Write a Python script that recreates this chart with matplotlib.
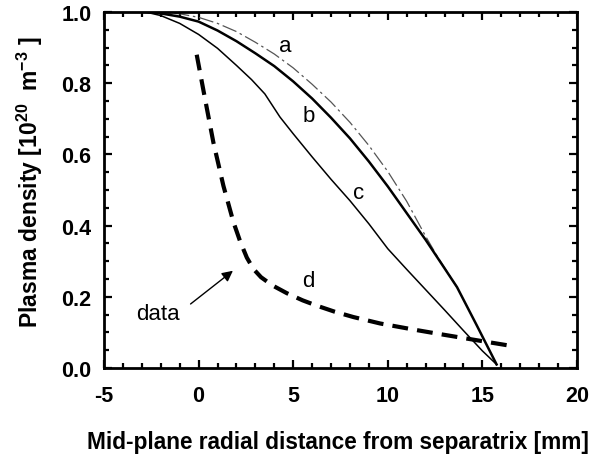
import matplotlib
matplotlib.use("Agg")
import matplotlib.pyplot as plt
from matplotlib.ticker import MultipleLocator

# ---- data ----
a_x = [-2.6, -1, 0, 1, 2, 3, 4, 5, 6, 7, 8, 9, 10, 11, 12, 12.6, 13.66]
a_y = [1.0, 0.995, 0.985, 0.968, 0.945, 0.915, 0.882, 0.843, 0.797, 0.747, 0.69, 0.625, 0.552, 0.468, 0.37, 0.315, 0.227]

b_x = [-2.8, -2, -1, 0, 1, 2, 3, 4, 5, 6, 7, 8, 9, 10, 11, 12, 13, 13.66, 14.7, 15.75]
b_y = [1.0, 0.996, 0.987, 0.973, 0.948, 0.918, 0.884, 0.848, 0.805, 0.757, 0.703, 0.645, 0.58, 0.51, 0.435, 0.36, 0.28, 0.227, 0.12, 0.01]

c_x = [-2.8, -2, -1, 0, 1, 2, 2.8, 3.5, 4.3, 5, 6, 7, 8, 9, 10, 11, 12, 13, 14, 15, 15.75]
c_y = [1.0, 0.99, 0.968, 0.937, 0.898, 0.85, 0.81, 0.77, 0.705, 0.658, 0.593, 0.53, 0.47, 0.405, 0.335, 0.277, 0.22, 0.163, 0.105, 0.048, 0.01]

d_x = [-0.1, 0.34, 0.78, 1.31, 1.84, 2.2, 2.55, 2.9, 3.3, 3.9, 4.67, 5.5, 6.25, 7.2, 8.19, 9.6, 11.36, 12.78, 14.36, 16.3]
d_y = [0.88, 0.756, 0.634, 0.512, 0.41, 0.355, 0.31, 0.278, 0.255, 0.232, 0.21, 0.19, 0.175, 0.158, 0.143, 0.125, 0.108, 0.095, 0.081, 0.064]

curve_labels = ["a", "b", "c", "d"]
label_x = [4.58, 5.81, 8.46, 5.81]
label_y = [0.905, 0.709, 0.493, 0.245]

data_text_xy = (-2.14, 0.154)
data_arrow_tail = (-0.54, 0.175)
data_arrow_head = (1.93, 0.278)

x_ticks = [-5, 0, 5, 10, 15, 20]
y_ticks = [0.0, 0.2, 0.4, 0.6, 0.8, 1.0]

# ---- style ----
plt.rcParams['font.family'] = ['Liberation Sans', 'DejaVu Sans']
plt.rcParams['axes.unicode_minus'] = False
plt.rcParams['mathtext.fontset'] = 'custom'
plt.rcParams['mathtext.rm'] = 'Liberation Sans:bold'
plt.rcParams['mathtext.bf'] = 'Liberation Sans:bold'
plt.rcParams['mathtext.it'] = 'Liberation Sans:bold'

fig = plt.figure(figsize=(6.02, 4.60), dpi=100)
ax = fig.add_axes([104/602, 1-369/460, (577-104)/602, (369-13)/460])

ax.plot(a_x, a_y, color='#555555', lw=0.9, dashes=(12, 3, 2, 3))
ax.plot(b_x, b_y, color='black', lw=1.8)
ax.plot(c_x, c_y, color='black', lw=1.1)
ax.plot(d_x, d_y, color='black', lw=3.0, dashes=(3.8, 2.2))

for t, x, y in zip(curve_labels, label_x, label_y):
    ax.text(x, y, t, fontsize=16, ha='center', va='center')

ax.annotate('', xy=data_arrow_head, xytext=data_arrow_tail,
            arrowprops=dict(arrowstyle='-|>', lw=1.0, color='black', mutation_scale=16))
ax.text(data_text_xy[0], data_text_xy[1], 'data', fontsize=16, ha='center', va='center')

ax.set_xlim(-5, 20)
ax.set_ylim(0, 1)
ax.set_xticks(x_ticks)
ax.set_xticklabels([str(v) for v in x_ticks])
ax.set_yticks(y_ticks)
ax.set_yticklabels([f"{v:.1f}" for v in y_ticks])
ax.xaxis.set_minor_locator(MultipleLocator(1))
ax.yaxis.set_minor_locator(MultipleLocator(0.05))
ax.tick_params(which='both', direction='in', top=True, right=True, width=1.6)
ax.tick_params(which='major', length=6)
ax.tick_params(which='minor', length=3.5)
ax.tick_params(axis='x', which='major', pad=12, labelsize=15.5)
ax.tick_params(axis='y', which='major', pad=9, labelsize=15.5)
for lab in ax.get_xticklabels() + ax.get_yticklabels():
    lab.set_fontweight('bold')
for s in ax.spines.values():
    s.set_linewidth(2.0)

fig.text(338/602, 1-443/460, 'Mid-plane radial distance from separatrix [mm]',
         fontsize=16.3, fontweight='bold', ha='center', va='center')
fig.text(30/602, 1-182/460, r'Plasma density [10$^{\mathbf{20}}$  m$^{\mathbf{-3}}$ ]',
         fontsize=16.5, fontweight='bold', ha='center', va='center', rotation=90)

fig.savefig('out.png', dpi=100)
